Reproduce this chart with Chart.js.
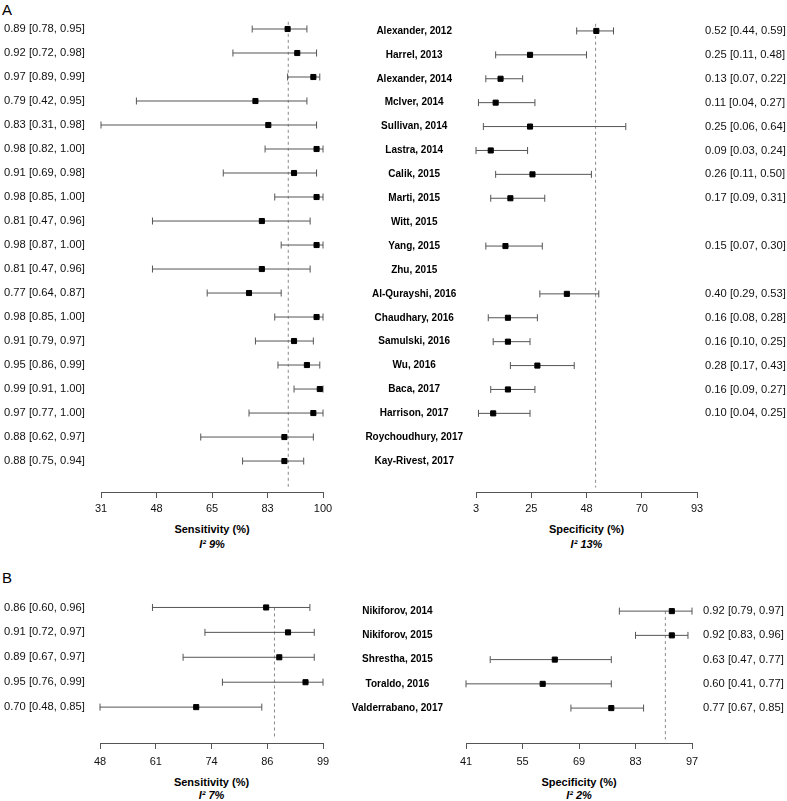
<!DOCTYPE html>
<html>
<head>
<meta charset="utf-8">
<script src="https://cdn.jsdelivr.net/npm/chart.js@4.4.1/dist/chart.umd.min.js"></script>
<style>
html,body{margin:0;padding:0;background:#fff;}
body{width:787px;height:801px;overflow:hidden;position:relative;font-family:"Liberation Sans",Arial,sans-serif;color:#000;}
canvas{position:absolute;}
.t{position:absolute;white-space:nowrap;transform:translateX(-50%);font-weight:bold;font-size:11px;line-height:13px;}
.i{font-style:italic;}
.p{position:absolute;left:2px;font-size:15px;line-height:15px;}
</style>
</head>
<body>
<div class="p" style="top:2px">A</div>
<div class="p" style="top:570px">B</div>

<canvas id="sensA" width="340" height="523" style="left:0;top:0"></canvas>
<canvas id="specA" width="447" height="523" style="left:340px;top:0"></canvas>
<canvas id="sensB" width="340" height="204" style="left:0;top:570px"></canvas>
<canvas id="specB" width="447" height="204" style="left:340px;top:570px"></canvas>

<div class="t" style="left:212px;top:523px">Sensitivity (%)</div>
<div class="t i" id="i2sensA" style="left:212px;top:537.5px"></div>
<div class="t" style="left:586.5px;top:523px">Specificity (%)</div>
<div class="t i" id="i2specA" style="left:586.5px;top:537.5px"></div>
<div class="t" style="left:211.5px;top:775.5px">Sensitivity (%)</div>
<div class="t i" id="i2sensB" style="left:211.5px;top:788.5px"></div>
<div class="t" style="left:579px;top:775.5px">Specificity (%)</div>
<div class="t i" id="i2specB" style="left:579px;top:788.5px"></div>

<script>
// ---------- DATA ----------
const studiesA = ['Alexander, 2012','Harrel, 2013','Alexander, 2014','McIver, 2014','Sullivan, 2014','Lastra, 2014','Calik, 2015','Marti, 2015','Witt, 2015','Yang, 2015','Zhu, 2015','Al-Qurayshi, 2016','Chaudhary, 2016','Samulski, 2016','Wu, 2016','Baca, 2017','Harrison, 2017','Roychoudhury, 2017','Kay-Rivest, 2017'];
const sensA   = [0.89,0.92,0.97,0.79,0.83,0.98,0.91,0.98,0.81,0.98,0.81,0.77,0.98,0.91,0.95,0.99,0.97,0.88,0.88];
const sensALo = [0.78,0.72,0.89,0.42,0.31,0.82,0.69,0.85,0.47,0.87,0.47,0.64,0.85,0.79,0.86,0.91,0.77,0.62,0.75];
const sensAHi = [0.95,0.98,0.99,0.95,0.98,1.00,0.98,1.00,0.96,1.00,0.96,0.87,1.00,0.97,0.99,1.00,1.00,0.97,0.94];
const specA   = [0.52,0.25,0.13,0.11,0.25,0.09,0.26,0.17,null,0.15,null,0.40,0.16,0.16,0.28,0.16,0.10,null,null];
const specALo = [0.44,0.11,0.07,0.04,0.06,0.03,0.11,0.09,null,0.07,null,0.29,0.08,0.10,0.17,0.09,0.04,null,null];
const specAHi = [0.59,0.48,0.22,0.27,0.64,0.24,0.50,0.31,null,0.30,null,0.53,0.28,0.25,0.43,0.27,0.25,null,null];
const sensATicks = ['31','48','65','83','100'];
const specATicks = ['3','25','48','70','93'];
const pooledSensA = 0.892, pooledSpecA = 0.517;
const i2SensA = 9, i2SpecA = 13;

const studiesB = ['Nikiforov, 2014','Nikiforov, 2015','Shrestha, 2015','Toraldo, 2016','Valderrabano, 2017'];
const sensB   = [0.86,0.91,0.89,0.95,0.70];
const sensBLo = [0.60,0.72,0.67,0.76,0.48];
const sensBHi = [0.96,0.97,0.97,0.99,0.85];
const specB   = [0.92,0.92,0.63,0.60,0.77];
const specBLo = [0.79,0.83,0.47,0.41,0.67];
const specBHi = [0.97,0.96,0.77,0.77,0.85];
const sensBTicks = ['48','61','74','86','99'];
const specBTicks = ['41','55','69','83','97'];
const pooledSensB = 0.879, pooledSpecB = 0.904;
const i2SensB = 7, i2SpecB = 2;

// ---------- DRAWING ----------
const FF = '"Liberation Sans", Arial, Helvetica, sans-serif';
Chart.defaults.font.family = FF;
Chart.defaults.color = '#000';

function fmt(est, lo, hi, i){
  return est[i] == null ? '' : est[i].toFixed(2) + ' [' + lo[i].toFixed(2) + ', ' + hi[i].toFixed(2) + ']';
}

function forest(id, o){
  const n = o.est.length;
  const ci = [];
  o.est.forEach((e,i)=>{
    if (o.lo[i] == null) return;
    ci.push({x:o.lo[i]*100, y:i}, {x:o.hi[i]*100, y:i}, {x:null, y:null});
  });
  const pts = [];
  o.est.forEach((e,i)=>{ if (e != null) pts.push({x:e*100, y:i}); });
  const tmin = +o.ticks[0], tmax = +o.ticks[o.ticks.length-1];
  const rowTicks = sc => { sc.ticks = o.est.map((_,i)=>({value:i})); };
  const valueLabels = o.est.map((_,i)=>fmt(o.est,o.lo,o.hi,i));

  const scales = {
    x: {
      type:'linear', min:tmin, max:tmax,
      afterBuildTicks: sc => { const k = o.ticks.length; sc.ticks = o.ticks.map((_,j)=>({value: tmin + (tmax-tmin)*j/(k-1)})); },
      afterFit: sc => { sc.height = 31; },
      ticks:{callback:(v,j)=>o.ticks[j], font:{size:11}, color:'#111', padding:o.tickPad, maxRotation:0, autoSkip:false},
      grid:{drawOnChartArea:false, drawTicks:true, tickLength:6, color:'#555', lineWidth:1},
      border:{display:true, color:'#555', width:1}
    },
    y: {
      type:'linear', reverse:true, min:-0.5, max:o.ymax,
      afterBuildTicks: rowTicks,
      afterFit: sc => { sc.width = o.leftW; },
      grid:{display:false, drawTicks:false}, border:{display:false},
      ticks: o.side === 'sens'
        ? {callback:v=>valueLabels[v], crossAlign:'far', font:{size:11.2}, color:'#111', autoSkip:false, padding:0}
        : {callback:v=>o.names[v], crossAlign:'center', font:{size:10, weight:'bold'}, color:'#000', autoSkip:false, padding:o.namePad}
    }
  };
  if (o.side === 'spec') {
    scales.y2 = {
      type:'linear', position:'right', display:true, reverse:true, min:-0.5, max:o.ymax,
      afterBuildTicks: rowTicks,
      afterFit: sc => { sc.width = o.rightW; },
      grid:{display:false, drawTicks:false}, border:{display:false},
      ticks:{callback:v=>valueLabels[v], crossAlign:'near', font:{size:11.2}, color:'#111', autoSkip:false, padding:o.valPad}
    };
  }

  new Chart(document.getElementById(id), {
    type:'scatter',
    data:{datasets:[
      {type:'scatter', data:pts, pointStyle:'rect', pointRadius:3.6, pointBorderWidth:1,
       backgroundColor:'#000', borderColor:'#000', clip:false},
      {type:'line', data:ci, borderColor:'#555', borderWidth:1, spanGaps:false, fill:false,
       pointStyle:'line', pointRotation:90, pointRadius:3.5, pointBorderColor:'#555', pointBorderWidth:1,
       tension:0, clip:false},
      {type:'line', data:[{x:o.pooled*100, y:o.dashFrom},{x:o.pooled*100, y:o.dashTo}],
       borderColor:'#8a8a8a', borderWidth:1, borderDash:[3,3], pointRadius:0, clip:false}
    ]},
    options:{
      responsive:false, animation:false, events:[],
      layout:{padding:o.pad},
      plugins:{legend:{display:false}, tooltip:{enabled:false}},
      scales
    }
  });
}

forest('sensA', {side:'sens', est:sensA, lo:sensALo, hi:sensAHi, ticks:sensATicks, pooled:pooledSensA,
  ymax:19.29, dashFrom:-0.3, dashTo:19.1, leftW:97, pad:{left:4,right:17,top:17,bottom:0}, tickPad:4});
forest('specA', {side:'spec', names:studiesA, est:specA, lo:specALo, hi:specAHi, ticks:specATicks, pooled:pooledSpecA,
  ymax:19.29, dashFrom:-0.3, dashTo:19.1, leftW:136, rightW:90, namePad:13, valPad:8, pad:{left:0,right:0,top:17,bottom:0}, tickPad:4});
forest('sensB', {side:'sens', est:sensB, lo:sensBLo, hi:sensBHi, ticks:sensBTicks, pooled:pooledSensB,
  ymax:5.44, dashFrom:0, dashTo:5.3, leftW:96, pad:{left:4,right:17,top:25,bottom:0}, tickPad:6});
forest('specB', {side:'spec', names:studiesB, est:specB, lo:specBLo, hi:specBHi, ticks:specBTicks, pooled:pooledSpecB,
  ymax:5.44, dashFrom:0, dashTo:5.3, leftW:126, rightW:95, namePad:23, valPad:11, pad:{left:0,right:0,top:25,bottom:0}, tickPad:6});

document.getElementById('i2sensA').textContent = 'I\u00B2 ' + i2SensA + '%';
document.getElementById('i2specA').textContent = 'I\u00B2 ' + i2SpecA + '%';
document.getElementById('i2sensB').textContent = 'I\u00B2 ' + i2SensB + '%';
document.getElementById('i2specB').textContent = 'I\u00B2 ' + i2SpecB + '%';
</script>
</body>
</html>
